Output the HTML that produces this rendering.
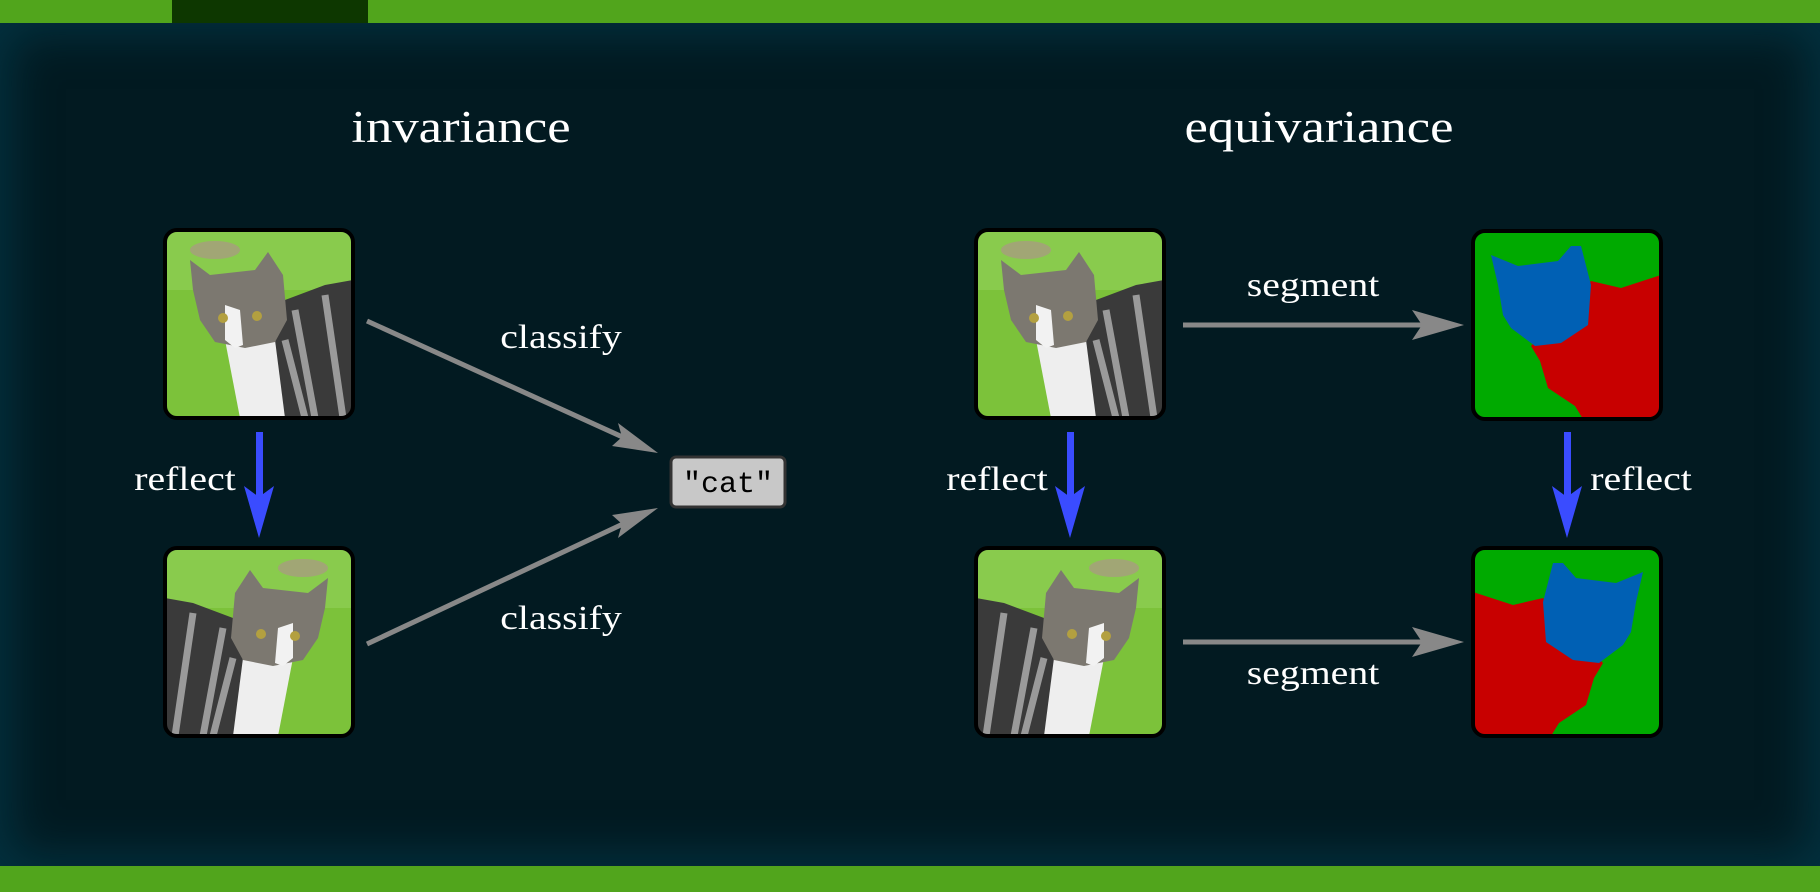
<!DOCTYPE html>
<html><head><meta charset="utf-8"><style>
html,body{margin:0;padding:0}
body{width:1820px;height:892px;overflow:hidden;position:relative;background:#011a21;font-family:"Liberation Serif",serif}
.bar{position:absolute;left:0;width:1820px;background:#51a51c}
.bg{position:absolute;left:0;top:23px;width:1820px;height:843px;background:#021a21;box-shadow:inset 0 0 45px 12px #03313f}
.t{position:absolute;color:#fff;white-space:nowrap;transform:translate(-50%,-50%) scaleX(1.17)}
</style></head><body>
<div class="bar" style="top:0;height:23px"></div>
<div style="position:absolute;left:172px;top:0;width:196px;height:23px;background:#0d3700"></div>
<div class="bg"></div>
<div class="bar" style="top:866px;height:26px"></div>

<svg width="1820" height="892" style="position:absolute;left:0;top:0">
<defs>
<g id="cat">
 <rect x="0" y="0" width="188" height="188" fill="#7cc23a"/>
 <rect x="0" y="0" width="188" height="60" fill="#8fcf55" opacity="0.7"/>
 <ellipse cx="50" cy="20" rx="25" ry="9" fill="#a89c80" opacity="0.8"/>
 <path d="M105 188 L100 120 L120 70 L160 55 L188 50 L188 188 Z" fill="#3a3a3a"/>
 <path d="M130 80 L150 188 M160 65 L178 188 M120 110 L140 188" stroke="#9a9a9a" stroke-width="7" fill="none"/>
 <path d="M60 110 L110 110 L120 188 L75 188 Z" fill="#eeeeee"/>
 <path d="M25 30 L45 45 L90 40 L103 22 L118 45 L122 90 L110 112 L80 118 L50 112 L35 90 L28 60 Z" fill="#7c7870"/>
 <path d="M60 75 L75 80 L78 115 L70 118 L60 110 Z" fill="#f2f2f2"/>
 <circle cx="58" cy="88" r="5" fill="#b3a040"/><circle cx="92" cy="86" r="5" fill="#b3a040"/>
</g>
<clipPath id="cb"><rect x="0" y="0" width="188" height="188" rx="12"/></clipPath>
<g id="seg">
 <rect x="0" y="0" width="188" height="188" fill="#00aa00"/>
 <path d="M118 50 L148 57 L188 44 L188 188 L110 188 L102 175 L75 157 L67 130 L58 115 Z" fill="#c80000"/>
 <path d="M18 24 L45 35 L85 30 L98 15 L108 15 L118 54 L115 94 L88 112 L62 115 L38 97 L30 84 L25 54 Z" fill="#0060b4"/>
</g>
</defs>

<g transform="translate(165,230)" clip-path="url(#cb)"><use href="#cat"/></g>
<g transform="translate(165,548)"><g clip-path="url(#cb)"><g transform="translate(188,0) scale(-1,1)"><use href="#cat"/></g></g></g>
<g transform="translate(976,230)" clip-path="url(#cb)"><use href="#cat"/></g>
<g transform="translate(976,548)"><g clip-path="url(#cb)"><g transform="translate(188,0) scale(-1,1)"><use href="#cat"/></g></g></g>
<g transform="translate(1473,231)" clip-path="url(#cb)"><use href="#seg"/></g>
<g transform="translate(1473,548)"><g clip-path="url(#cb)"><g transform="translate(188,0) scale(-1,1)"><use href="#seg"/></g></g></g>
<g fill="none" stroke="#000" stroke-width="4">
 <rect x="165" y="230" width="188" height="188" rx="12"/>
 <rect x="165" y="548" width="188" height="188" rx="12"/>
 <rect x="976" y="230" width="188" height="188" rx="12"/>
 <rect x="976" y="548" width="188" height="188" rx="12"/>
 <rect x="1473" y="231" width="188" height="188" rx="12"/>
 <rect x="1473" y="548" width="188" height="188" rx="12"/>
</g>

<rect x="671" y="457" width="114" height="50" rx="5" fill="#c8c8c8" stroke="#333" stroke-width="3"/>
<text x="728" y="492" text-anchor="middle" font-family="Liberation Mono, monospace" font-size="30" fill="#000">"cat"</text>

<g stroke="#888" stroke-width="5" fill="none">
 <line x1="367" y1="321" x2="640" y2="445"/>
 <line x1="367" y1="644" x2="640" y2="516"/>
 <line x1="1183" y1="325" x2="1445" y2="325"/>
 <line x1="1183" y1="642" x2="1445" y2="642"/>
</g>
<g fill="#888">
 <path d="M658 453 L612 446 L622 437 L618 423 Z"/>
 <path d="M658 508 L618 538 L622 524 L612 515 Z"/>
 <path d="M1464 325 L1412 310 L1422 325 L1412 340 Z"/>
 <path d="M1464 642 L1412 627 L1422 642 L1412 657 Z"/>
</g>
<g fill="#3a4cff">
 <rect x="256" y="432" width="7" height="70"/><path d="M259 538 L244 486 L259 497 L274 486 Z"/>
 <rect x="1067" y="432" width="7" height="70"/><path d="M1070 538 L1055 486 L1070 497 L1085 486 Z"/>
 <rect x="1564" y="432" width="7" height="70"/><path d="M1567 538 L1552 486 L1567 497 L1582 486 Z"/>
</g>
</svg>

<div class="t" style="left:461px;top:127px;font-size:45px">invariance</div>
<div class="t" style="left:1319px;top:127px;font-size:45px">equivariance</div>
<div class="t" style="left:561px;top:338px;font-size:34px">classify</div>
<div class="t" style="left:561px;top:619px;font-size:34px">classify</div>
<div class="t" style="left:185px;top:480px;font-size:34px">reflect</div>
<div class="t" style="left:997px;top:480px;font-size:34px">reflect</div>
<div class="t" style="left:1641px;top:480px;font-size:34px">reflect</div>
<div class="t" style="left:1313px;top:286px;font-size:34px">segment</div>
<div class="t" style="left:1313px;top:674px;font-size:34px">segment</div>
</body></html>
